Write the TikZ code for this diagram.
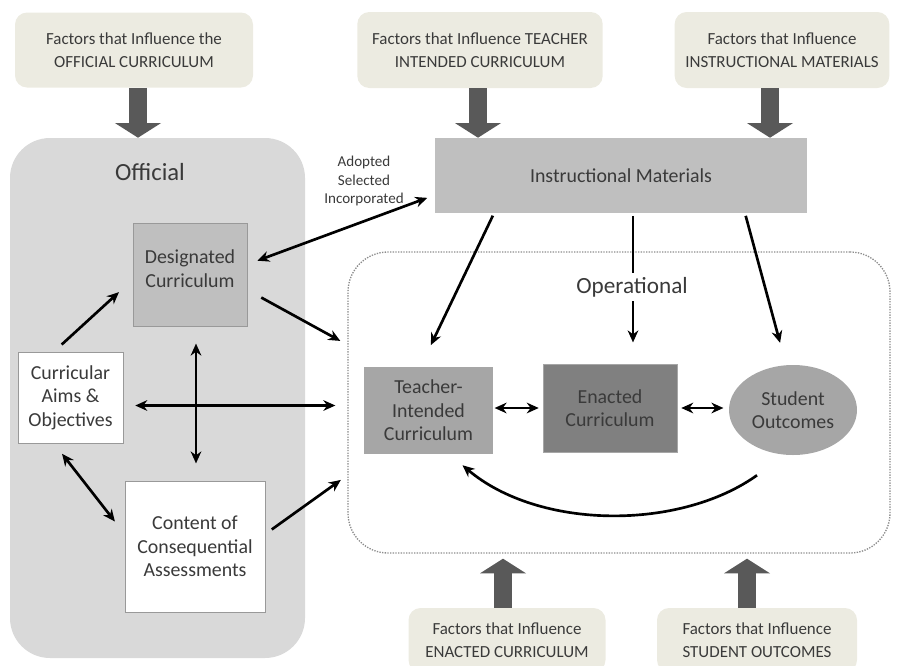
\documentclass[tikz,border=0pt]{standalone}
\usepackage{fontspec}
\setmainfont{Carlito}
\usetikzlibrary{arrows.meta,shapes.geometric}
\definecolor{factorbg}{HTML}{ECEBE1}
\definecolor{txtgray}{HTML}{3A3A3A}
\definecolor{bigarrowgray}{HTML}{595959}
\definecolor{officialgray}{HTML}{D9D9D9}
\definecolor{desiggray}{HTML}{BFBFBF}
\definecolor{matgray}{HTML}{BFBFBF}
\definecolor{teachgray}{HTML}{A6A6A6}
\definecolor{enactgray}{HTML}{808080}
\tikzset{
	factor/.style={fill=factorbg, rounded corners=9pt, align=center, text=txtgray, font=\fontsize{12.7}{17}\selectfont},
	box/.style={draw=gray!80, align=center, text=txtgray, font=\fontsize{14.9}{17.6}\selectfont, inner sep=0pt},
	bigarrow/.style={line width=14pt, bigarrowgray, -{Triangle[width=34pt,length=11pt]}},
	conn/.style={line width=2pt, -{Stealth[length=9pt,width=8pt]}},
	dconn/.style={line width=2pt, {Stealth[length=9pt,width=8pt]}-{Stealth[length=9pt,width=8pt]}},
}

\begin{document}
\begin{tikzpicture}[x=0.75pt,y=-0.75pt]
	\useasboundingbox (0,0) rectangle (904,665);
	\clip (0,0) rectangle (904,665);
	% the two areas
	\node [fill=officialgray, rounded corners=30pt, minimum width=221.25pt, minimum height=390pt] (official) at (157.5,398) {};
	\node [draw=gray!90, dash pattern=on 1pt off 1pt, line width=1pt, rounded corners=30pt, minimum width=406.5pt, minimum height=225.75pt] (op) at (619,402.5) {};
	\node [text=txtgray, font=\fontsize{18.5}{20}\selectfont] (offlbl) at (150,172) {Official};

	% factors
	\node [factor, minimum width=178.5pt, minimum height=56.25pt] (fofficial) at (134,50) {Factors that Influence the\\OFFICIAL CURRICULUM};
	\node [factor, minimum width=184pt, minimum height=57pt] (fteacher) at (480,50) {Factors that Influence TEACHER\\INTENDED CURRICULUM};
	\node [factor, minimum width=161pt, minimum height=57pt] (fmaterials) at (782,50) {Factors that Influence\\INSTRUCTIONAL MATERIALS};
	\node [factor, minimum width=147.75pt, minimum height=48pt] (fenacted) at (507,640) {Factors that Influence\\ENACTED CURRICULUM};
	\node [factor, minimum width=150pt, minimum height=48pt] (fstudent) at (757,640) {Factors that Influence\\STUDENT OUTCOMES};

	% curriculum boxes
	\node [box, fill=desiggray, minimum width=85.5pt, minimum height=77.25pt] (desig) at (190,274.5) {Designated\\Curriculum\\[-8.5pt]};
	\node [box, fill=white, minimum width=78.75pt, minimum height=68.25pt] (aims) at (70.5,397.5) {Curricular\\Aims \&\\Objectives};
	\node [box, fill=white, minimum width=105pt, minimum height=98.25pt] (content) at (195,546.5) {Content of\\Consequential\\Assessments};
	\node [box, draw=none, fill=matgray, minimum width=279pt, minimum height=56.25pt] (instr) at (621,175.5) {Instructional Materials};
	\node [box, draw=none, fill=teachgray, minimum width=96.75pt, minimum height=65.25pt] (teacher) at (428.5,410.5) {Teacher-\\Intended\\Curriculum};
	\node [box, draw=gray!70, fill=enactgray, minimum width=100.5pt, minimum height=66pt] (enacted) at (610,408) {Enacted\\Curriculum};
	\node [box, ellipse, draw=none, fill=teachgray, minimum width=96pt, minimum height=67.5pt] (student) at (793,410) {Student\\Outcomes};
	\node [align=center, text=txtgray, font=\fontsize{11.3}{14}\selectfont] (adopted) at (364,181) {Adopted\\Selected\\Incorporated};

	% influence arrows
	\draw [bigarrow] ([shift={(4,0)}]fofficial.south) -- ([shift={(4,0)}]fofficial.south |- official.north);
	\draw [bigarrow] ([shift={(-2,0)}]fteacher.south) -- ([shift={(-2,0)}]fteacher.south |- instr.north);
	\draw [bigarrow] ([shift={(-12,0)}]fmaterials.south) -- ([shift={(-12,0)}]fmaterials.south |- instr.north);
	\draw [bigarrow, shorten >=3.75pt] ([shift={(-4,0)}]fenacted.north) -- ([shift={(-4,0)}]fenacted.north |- op.south);
	\draw [bigarrow, shorten >=3.75pt] ([shift={(-10,0)}]fstudent.north) -- ([shift={(-10,0)}]fstudent.north |- op.south);

	% official part
	\draw [conn, shorten <=8pt, shorten >=14pt] (aims.110) -- (desig.185);
	\draw [dconn, shorten <=10pt, shorten >=12pt] (aims.250) -- (content.170);
	\draw [dconn, shorten <=13pt, shorten >=13pt] ([shift={(6,0)}]desig.south) -- ([shift={(6,0)}]desig.south |- content.north);
	\draw [dconn, shorten <=9pt, shorten >=9pt] ([shift={(0,8)}]aims.east) -- ([shift={(0,8)}]aims.east -| op.west);
	\draw [conn, shorten <=12pt, shorten >=6pt] (desig.-15) -- (op.168);
	\draw [conn, shorten <=6pt, shorten >=6pt] (content.10) -- (op.195);
	\draw [dconn, shorten <=8pt, shorten >=6pt] (desig.10) -- (instr.186.6);

	% operational part
	\draw [conn, shorten <=2pt, shorten >=18pt] ([shift={(-127,0)}]instr.south) -- ([shift={(-8,0)}]teacher.north);
	\draw [conn, shorten <=2pt, shorten >=16pt] ([shift={(12,0)}]instr.south) -- ([shift={(12,0)}]instr.south |- enacted.north);
	\draw [conn, shorten <=2pt, shorten >=17pt] ([shift={(124,0)}]instr.south) -- ([shift={(-7,0)}]student.north);
	\draw [dconn, shorten <=1pt, shorten >=3pt] (teacher.east |- enacted.west) -- (enacted.west);
	\draw [dconn, shorten <=3pt, shorten >=4pt] (enacted.east) -- (enacted.east -| student.west);
	\draw [conn] ([shift={(-36,20)}]student.south) .. controls +(-77,55) and +(77,65) .. ([shift={(34,11)}]teacher.south);
	\node [fill=white, text=txtgray, font=\fontsize{17.4}{20}\selectfont] (oplbl) at (632,287) {Operational};
\end{tikzpicture}
\end{document}
